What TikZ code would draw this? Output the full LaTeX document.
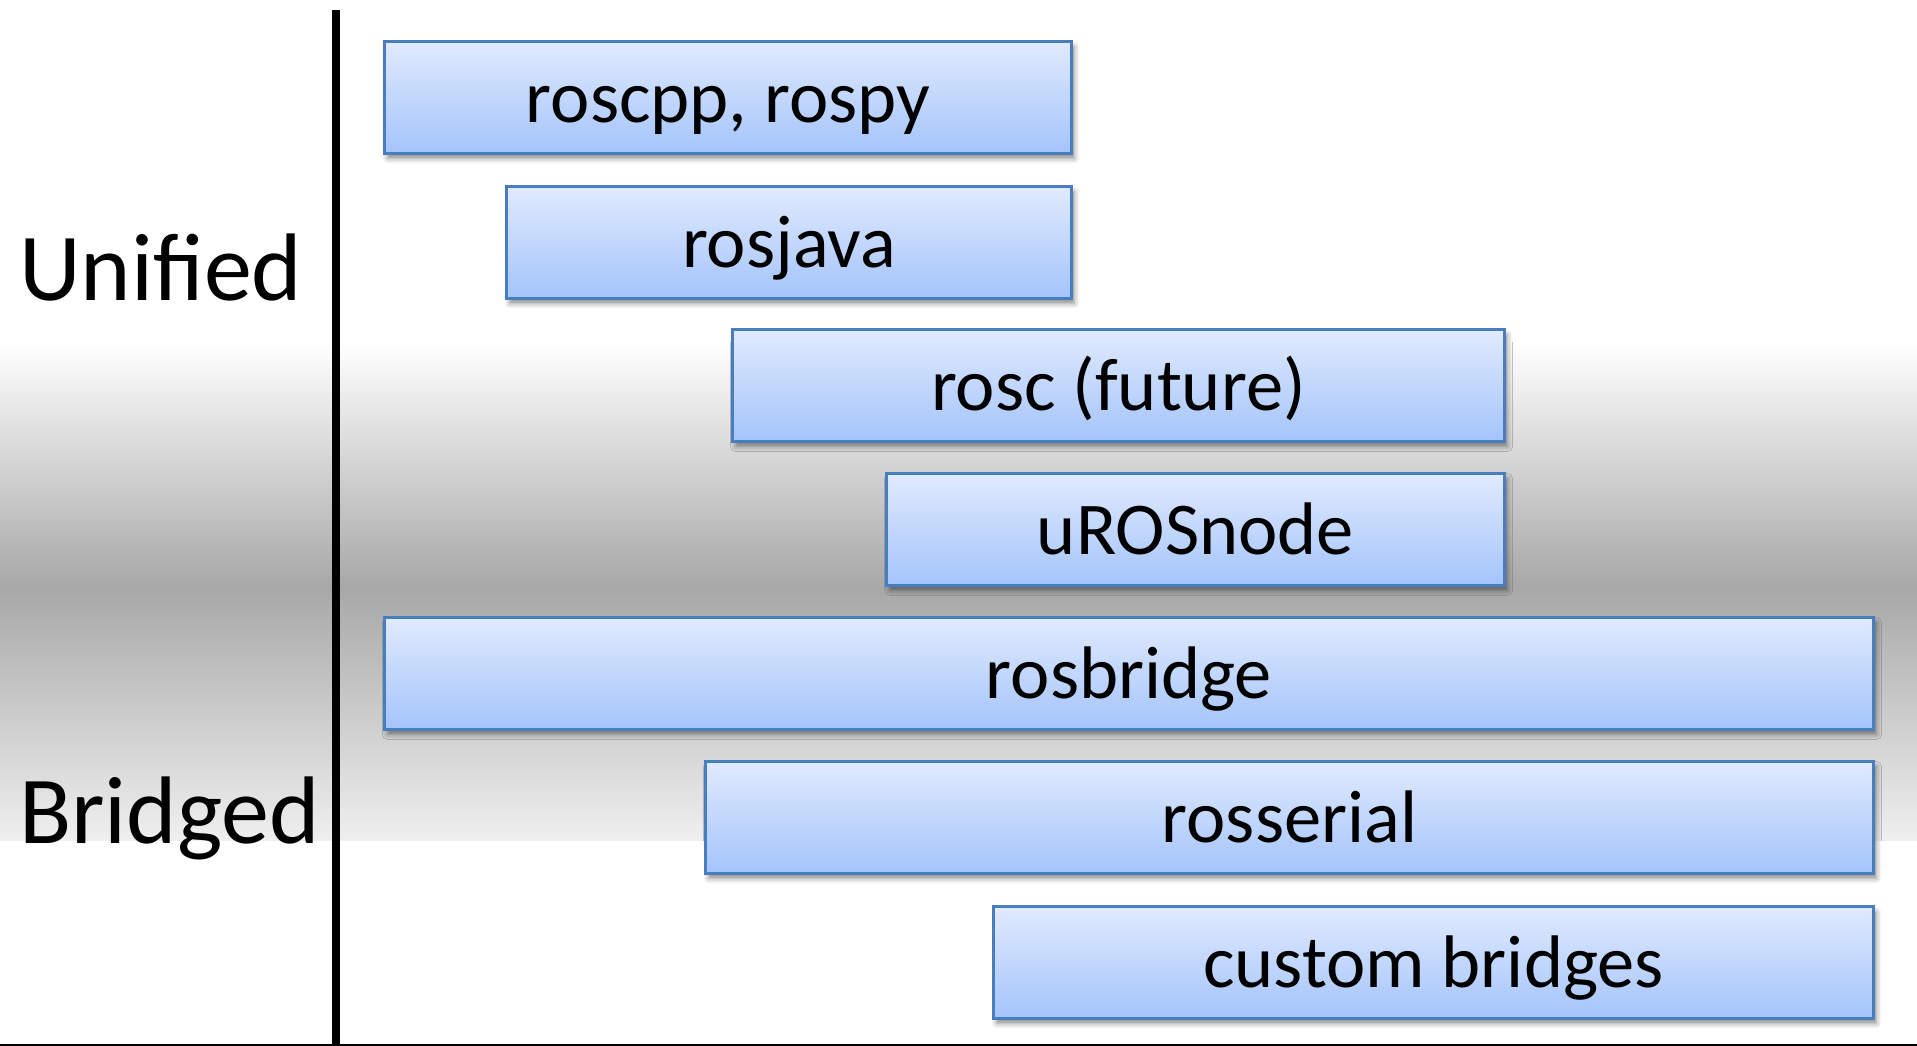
\documentclass[tikz,border=0pt]{standalone}
\usepackage{fontspec}
\setmainfont{Carlito}
\usetikzlibrary{shadows.blur}

\definecolor{boxtop}{RGB}{225,234,253}
\definecolor{boxbot}{RGB}{163,196,252}
\definecolor{boxedge}{RGB}{72,126,190}
\definecolor{banddark}{RGB}{168,168,168}
\definecolor{bandlow}{RGB}{239,239,239}

\tikzset{
  libbox/.style={
    draw=boxedge, line width=3pt,
    top color=boxtop, bottom color=boxbot,
    anchor=north west, minimum height=112pt, inner sep=0pt,
    text height=50pt, text depth=0pt,
    font=\fontsize{74.5}{80}\selectfont,
    blur shadow={shadow xshift=3pt, shadow yshift=-5pt,
                 shadow blur radius=5pt, shadow opacity=45}
  },
  sidelabel/.style={anchor=base west, inner sep=0pt,
    font=\fontsize{96}{100}\selectfont}
}

\begin{document}
\begin{tikzpicture}[x=1pt, y=-1pt]
  \useasboundingbox (0,0) rectangle (1917,1046);

  % background band: white -> grey -> light grey, hard edge at the bottom
  \shade[top color=white, bottom color=banddark] (0,342) rectangle (1917,587);
  \shade[top color=banddark, bottom color=bandlow] (0,587) rectangle (1917,840);

  % axes
  \draw[line width=8pt, black] (336,10) -- (336,1046);
  \draw[line width=5pt, black] (0,1046) -- (1917,1046);

  % category labels
  \node[sidelabel] (unified) at (19,300) {Unified};
  \node[sidelabel] (bridged) at (19,843) {Bridged};

  % client libraries and bridges
  \node[libbox, minimum width=687pt]  (roscpp)  at (383,40)  {roscpp, rospy};
  \node[libbox, minimum width=565pt]  (rosjava) at (505,185) {rosjava};
  \node[libbox, minimum width=772pt]  (rosc)    at (731,328) {rosc (future)};
  \node[libbox, minimum width=618pt]  (uros)    at (885,472) {uROSnode};
  \node[libbox, minimum width=1489pt] (rosbridge) at (383,616) {rosbridge};
  \node[libbox, minimum width=1168pt] (rosserial) at (704,760) {rosserial};
  \node[libbox, minimum width=880pt]  (custom)  at (992,905) {custom bridges};
\end{tikzpicture}
\end{document}
